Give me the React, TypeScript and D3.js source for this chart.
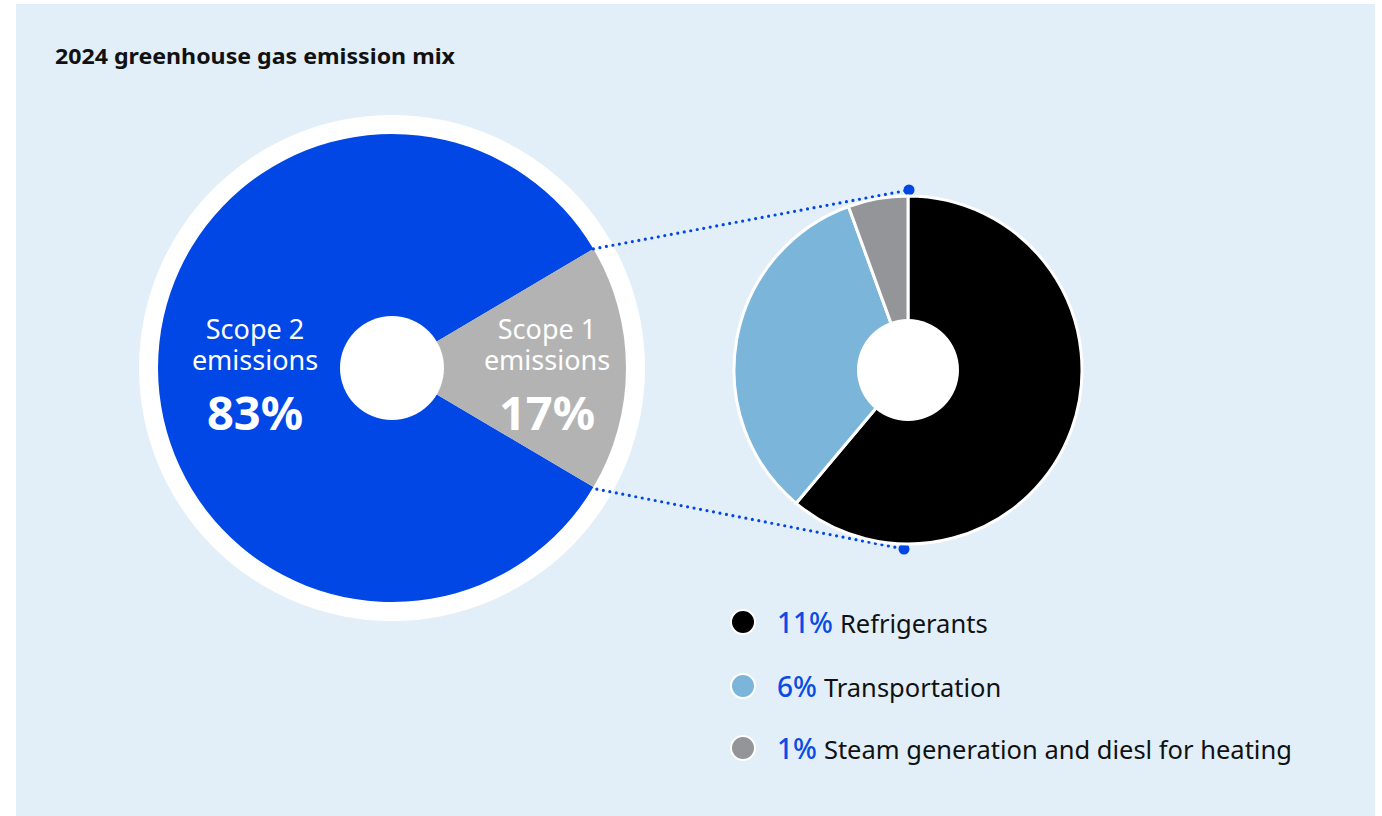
import React from "react";
import * as d3 from "d3";

const title = "2024 greenhouse gas emission mix";
const scopeNames = ["Scope 2", "Scope 1"];
const scopeValues = [83, 17];
const scopeColors = ["#0047e6", "#b3b3b3"];

const subNames = ["Refrigerants", "Transportation", "Steam generation and diesl for heating"];
const subValues = [11, 6, 1];
const subColors = ["#000000", "#7bb5da", "#939598"];

const FONT = "'Source Sans Pro', 'Noto Sans', 'Open Sans', sans-serif";

export default function App() {
  const W = 1382, H = 816;
  const bc = { x: 392, y: 368 };
  const bigR = 234, ringR = 253, holeR = 52;
  const sc = { x: 908, y: 370 };
  const smallR = 174, smallHole = 51;

  // big pie: Scope1 centred at +90deg (right)
  const s1Angle = (scopeValues[1] / d3.sum(scopeValues)) * 2 * Math.PI;
  const bigPie = d3.pie<number>().sort(null).startAngle(Math.PI / 2 + s1Angle / 2).endAngle(Math.PI / 2 + s1Angle / 2 + 2 * Math.PI);
  const bigArcs = bigPie(scopeValues);
  const bigArc = d3.arc<d3.PieArcDatum<number>>().innerRadius(0).outerRadius(bigR);

  const smallPie = d3.pie<number>().sort(null).startAngle(0).endAngle(2 * Math.PI);
  const smallArcs = smallPie(subValues);
  const smallArc = d3.arc<d3.PieArcDatum<number>>().innerRadius(0).outerRadius(smallR);

  const pt = (c: { x: number; y: number }, r: number, a: number) => ({ x: c.x + r * Math.sin(a), y: c.y - r * Math.cos(a) });
  const p1 = pt(bc, bigR, Math.PI / 2 - s1Angle / 2);
  const p2 = pt(bc, bigR + 4, Math.PI / 2 + s1Angle / 2);
  const q1 = { x: sc.x + 1, y: sc.y - smallR - 6 };
  const q2 = { x: sc.x - 4, y: sc.y + smallR + 5 };

  const legendY = [622, 686, 748];
  const labelX = [255, 547];

  return (
    <svg width={W} height={H} style={{ display: "block", position: "absolute", left: 0, top: 0 }}>
      <rect x={16} y={4} width={1359} height={H - 4} fill="#e2eff8" />
      <text x={55} y={64} fontFamily={FONT} fontWeight={700} fontSize={21} fill="#111" textLength={400} lengthAdjust="spacingAndGlyphs">{title}</text>

      <circle cx={bc.x} cy={bc.y} r={ringR} fill="#fff" />
      <g transform={`translate(${bc.x},${bc.y})`}>
        {bigArcs.map((a, i) => (
          <path key={i} d={bigArc(a) || ""} fill={scopeColors[i]} />
        ))}
      </g>
      <circle cx={bc.x} cy={bc.y} r={holeR} fill="#fff" />

      <g fontFamily={FONT} fill="#fff" textAnchor="middle">
        {scopeNames.map((n, i) => (
          <g key={i}>
            <text x={labelX[i]} y={339} fontSize={27}>
              <tspan x={labelX[i]} y={339}>{n}</tspan>
              <tspan x={labelX[i]} y={370}>emissions</tspan>
            </text>
            <text x={labelX[i]} y={430} fontSize={47} fontWeight={700}>{scopeValues[i]}%</text>
          </g>
        ))}
      </g>

      <line x1={p1.x} y1={p1.y} x2={q1.x} y2={q1.y} stroke="#0047e6" strokeWidth={3.2} strokeLinecap="round" strokeDasharray="0 6.6" />
      <line x1={p2.x} y1={p2.y} x2={q2.x} y2={q2.y} stroke="#0047e6" strokeWidth={3.2} strokeLinecap="round" strokeDasharray="0 6.6" />
      <circle cx={q1.x} cy={q1.y} r={5.5} fill="#0047e6" />
      <circle cx={q2.x} cy={q2.y} r={5.5} fill="#0047e6" />

      <g transform={`translate(${sc.x},${sc.y})`}>
        {smallArcs.map((a, i) => (
          <path key={i} d={smallArc(a) || ""} fill={subColors[i]} stroke="#fff" strokeWidth={3} strokeLinejoin="round" />
        ))}
        <circle r={smallHole} fill="#fff" />
      </g>

      {subNames.map((n, i) => (
        <g key={i}>
          <circle cx={743} cy={legendY[i]} r={12} fill={subColors[i]} stroke="#fff" strokeWidth={2} />
          <text x={777} y={legendY[i] + 11} fontFamily={FONT} fontSize={28}>
            <tspan fill="#0a4be6" fontWeight={500}>{subValues[i]}%</tspan>
            <tspan fill="#111" fontSize={25.5} dx={7}>{n}</tspan>
          </text>
        </g>
      ))}
    </svg>
  );
}
